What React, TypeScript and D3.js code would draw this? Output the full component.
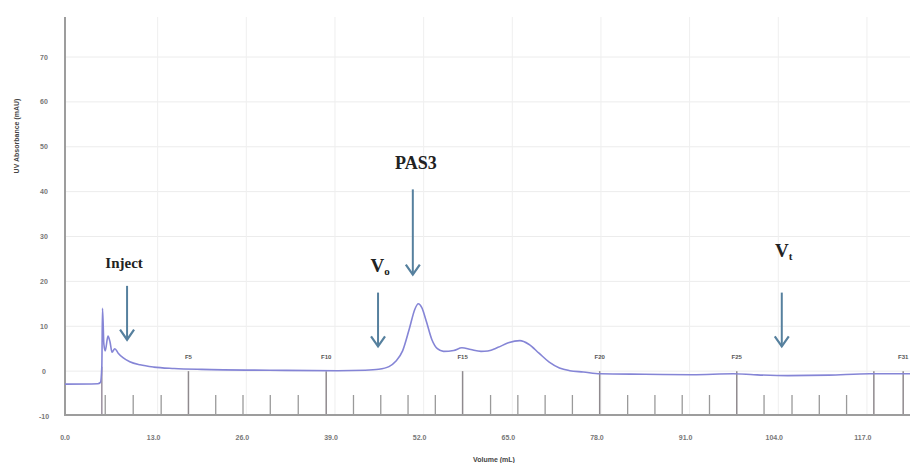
import React from "react";
import * as d3 from "d3";

// chromatogram trace: elution volume (mL) vs UV absorbance (mAU)
const volume = [0, 4.8, 5.2, 5.4, 5.5, 5.7, 5.9, 6.3, 6.6, 6.9, 7.3, 7.8, 8.5, 9.5, 11, 13, 16, 20, 30, 40, 44, 46, 47.5, 48.5, 49.5, 50.5, 51.3, 51.8, 52.3, 53, 53.8, 54.6, 55.5, 57, 58.2, 59.5, 61, 62, 63.5, 65, 66.7, 68, 69.5, 71, 72.5, 74, 76, 78.5, 85, 92, 98, 101, 106, 112, 118, 124];
const absorbance = [-2.9, -2.8, -2.5, 1, 14, 6, 4.5, 7.8, 6.5, 4.2, 5.0, 4.0, 3.0, 2.1, 1.4, 0.9, 0.6, 0.4, 0.2, 0.1, 0.2, 0.4, 1.0, 2.2, 4.5, 9.5, 13.8, 15, 14.2, 11, 7, 5, 4.4, 4.6, 5.2, 4.8, 4.4, 4.5, 5.3, 6.3, 6.8, 6.0, 4.0, 2.0, 0.7, 0.1, -0.2, -0.6, -0.7, -0.8, -0.6, -0.8, -1.0, -0.9, -0.6, -0.6];

const xTicks = [0, 13, 26, 39, 52, 65, 78, 91, 104, 117];
const yTicks = [-10, 0, 10, 20, 30, 40, 50, 60, 70];

// fraction collector marks
const smallMarks = [5.9, 10.0, 14.1, 22.1, 26.1, 30.1, 34.2, 42.3, 46.3, 50.3, 54.3, 62.4, 66.4, 70.4, 74.4, 82.5, 86.5, 90.5, 94.5, 102.5, 106.6, 110.6, 114.6];
const tallMarks = [18.1, 38.3, 58.3, 78.4, 98.5, 118.6, 122.9];
const tallLabels = ["F5", "F10", "F15", "F20", "F25", "", "F31"];
const injectMark = 5.4;

// annotations: label, volume, arrow top / bottom (mAU)
const notes = [
  { label: "Inject", vol: 9.1, top: 19, bottom: 7, textY: 23 },
  { label: "PAS3", vol: 51.0, top: 40.5, bottom: 21.5, textY: 45 },
  { label: "Vo", vol: 45.9, top: 17.5, bottom: 5.5, textY: 22 },
  { label: "Vt", vol: 105.1, top: 17.5, bottom: 5.5, textY: 25.5 },
];

export default function App() {
  const W = 910;
  const H = 463;
  const x = d3.scaleLinear().domain([0, 124]).range([65, 65 + 6.82 * 124]);
  const y = d3.scaleLinear().domain([-10, 70]).range([416, 57]);
  const axisY = 415;

  const pts: [number, number][] = volume.map((v, i) => [v, absorbance[i]]);
  const line = d3
    .line<[number, number]>()
    .x((d) => x(d[0]))
    .y((d) => y(d[1]))
    .curve(d3.curveMonotoneX);

  const arrowColor = "#56809e";
  const serif = "'Liberation Serif', 'Times New Roman', serif";
  const sans = "'Liberation Sans', Arial, sans-serif";

  return (
    <svg
      width={W}
      height={H}
      style={{ position: "absolute", left: 0, top: 0, background: "#fff" }}
    >
      {/* grid */}
      {yTicks.slice(1).map((t) => (
        <line key={"gy" + t} x1={66} x2={W} y1={y(t)} y2={y(t)} stroke="#ececec" />
      ))}
      {xTicks.slice(1).map((t) => (
        <line key={"gx" + t} x1={x(t) + 4} x2={x(t) + 4} y1={17} y2={axisY} stroke="#efefef" />
      ))}

      {/* fraction marks */}
      {smallMarks.map((m) => (
        <line key={"s" + m} x1={x(m)} x2={x(m)} y1={395} y2={axisY} stroke="#9a9a9a" strokeWidth={1.3} />
      ))}
      {tallMarks.map((m, i) => (
        <g key={"t" + m}>
          <line x1={x(m)} x2={x(m)} y1={y(0)} y2={axisY} stroke="#8f8a8e" strokeWidth={1.5} />
          <text x={x(m)} y={y(0) - 12} fontSize={6} fontFamily={sans} fontWeight="bold" fill="#555" textAnchor="middle">
            {tallLabels[i]}
          </text>
        </g>
      ))}
      <line x1={x(injectMark)} x2={x(injectMark)} y1={y(1)} y2={axisY} stroke="#9a8f9e" strokeWidth={1.5} />

      {/* axes */}
      <line x1={65} x2={65} y1={17} y2={axisY + 1} stroke="#9d9d9d" strokeWidth={2} />
      <line x1={64} x2={W} y1={axisY} y2={axisY} stroke="#9d9d9d" strokeWidth={2} />
      {yTicks.map((t) => (
        <text key={"yl" + t} x={44} y={y(t) + 2.5} fontSize={7} fontFamily={sans} fontWeight="bold" fill="#777" textAnchor="middle">
          {t}
        </text>
      ))}
      {xTicks.map((t) => (
        <text key={"xl" + t} x={x(t)} y={440} fontSize={7} fontFamily={sans} fontWeight="bold" fill="#777" textAnchor="middle">
          {t.toFixed(1)}
        </text>
      ))}
      <text
        transform="translate(19,136) rotate(-90)"
        fontSize={7}
        fontFamily={sans}
        fontWeight="bold"
        fill="#444"
        textAnchor="middle"
      >
        UV Absorbance (mAU)
      </text>
      <text x={494} y={462} fontSize={7} fontFamily={sans} fontWeight="bold" fill="#444" textAnchor="middle">
        Volume (mL)
      </text>

      {/* trace */}
      <path d={line(pts) ?? ""} fill="none" stroke="#8585d6" strokeWidth={1.6} />

      {/* annotations */}
      {notes.map((n) => {
        const ax = x(n.vol);
        const y1 = y(n.top);
        const y2 = y(n.bottom);
        return (
          <g key={n.label}>
            <line x1={ax} x2={ax} y1={y1} y2={y2} stroke={arrowColor} strokeWidth={2} />
            <path
              d={`M${ax - 7},${y2 - 10} L${ax},${y2} L${ax + 7},${y2 - 10}`}
              fill="none"
              stroke={arrowColor}
              strokeWidth={2.2}
            />
            {n.label === "Vo" || n.label === "Vt" ? (
              <text x={ax + 2} y={y(n.textY)} fontSize={19} fontFamily={serif} fontWeight="bold" fill="#222" textAnchor="middle">
                V
                <tspan fontSize={11} dy={3}>
                  {n.label === "Vo" ? "o" : "t"}
                </tspan>
              </text>
            ) : (
              <text
                x={ax + (n.label === "Inject" ? -3 : 3)}
                y={y(n.textY)}
                fontSize={n.label === "PAS3" ? 18 : 15}
                fontFamily={serif}
                fontWeight="bold"
                fill="#222"
                textAnchor="middle"
              >
                {n.label}
              </text>
            )}
          </g>
        );
      })}
    </svg>
  );
}
